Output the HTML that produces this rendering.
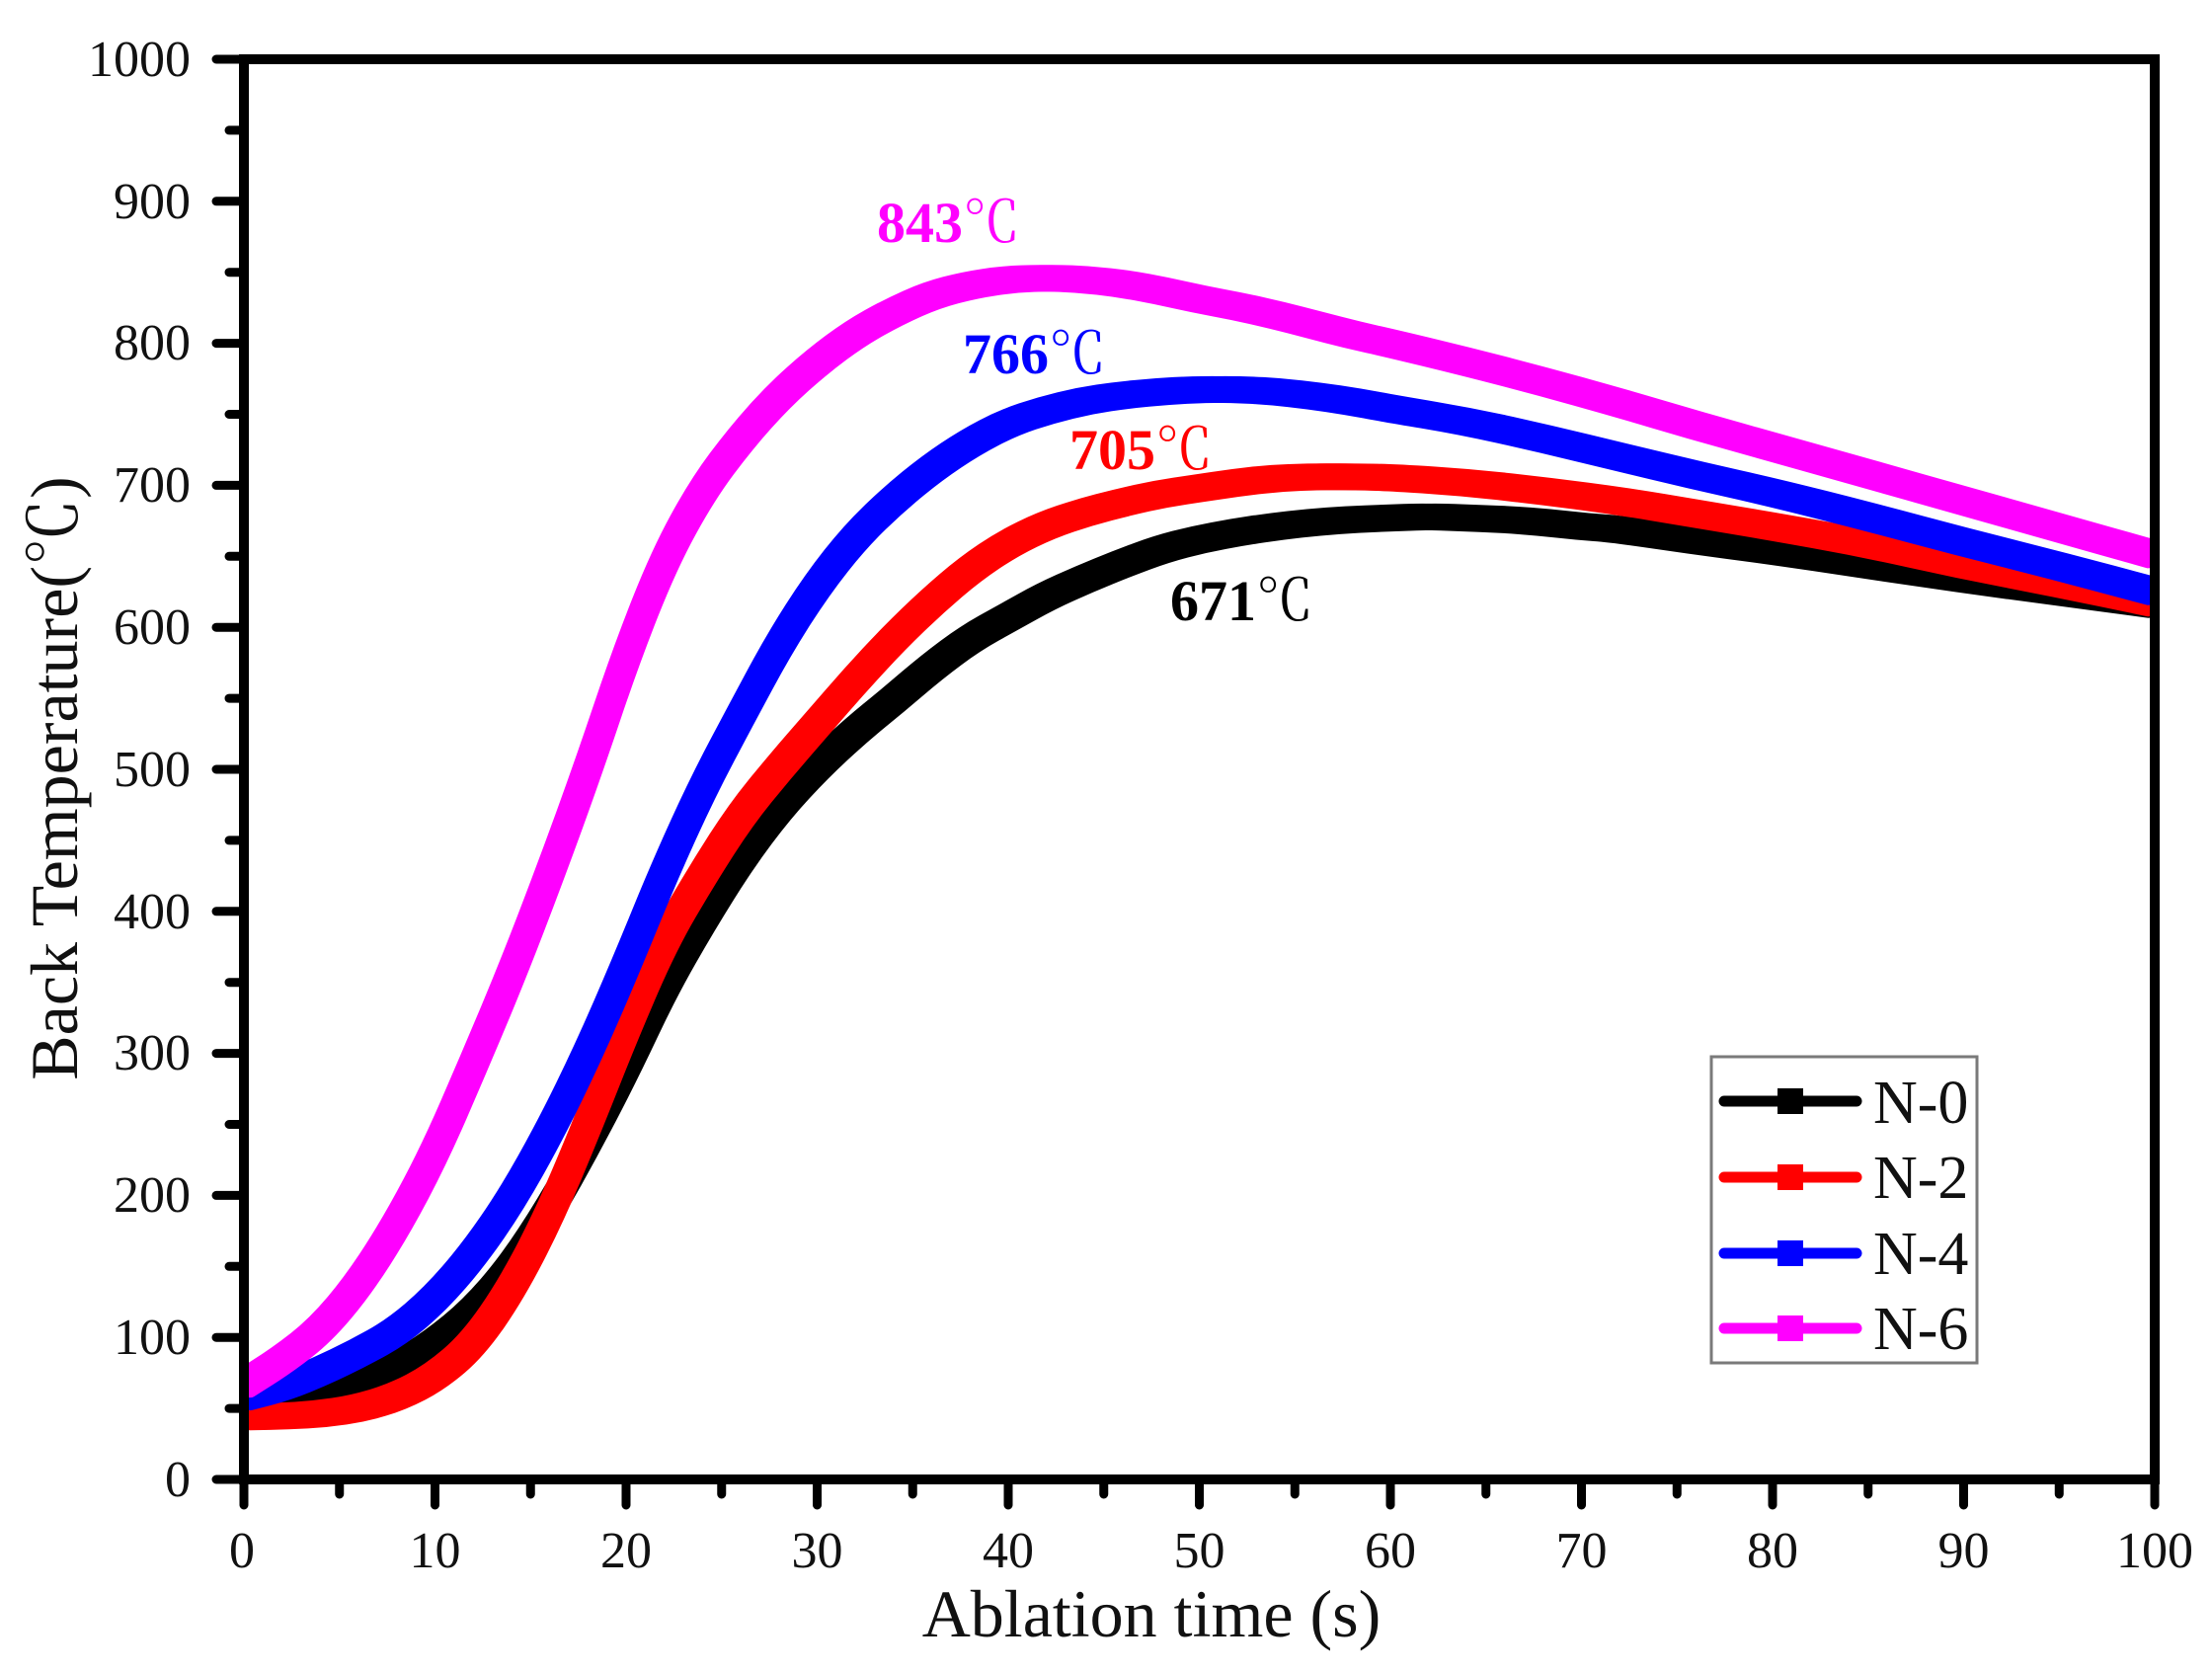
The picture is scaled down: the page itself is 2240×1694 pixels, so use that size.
<!DOCTYPE html>
<html>
<head>
<meta charset="utf-8">
<style>
html,body{margin:0;padding:0;background:#fff;}
svg{display:block;}
text{font-family:"Liberation Serif","Noto Serif CJK SC",serif;}
</style>
</head>
<body>
<svg width="2240" height="1694" viewBox="0 0 2240 1694" xmlns="http://www.w3.org/2000/svg">
<rect x="0" y="0" width="2240" height="1694" fill="#ffffff"/>
<defs>
<clipPath id="clip"><rect x="247" y="60" width="1935" height="1438"/></clipPath>
</defs>

<g clip-path="url(#clip)" fill="none" stroke-width="14" stroke-linejoin="round" stroke-linecap="round">
<!-- N-0 black -->
<g stroke="#000000">
<path vector-effect="non-scaling-stroke" transform="translate(240.5,1491.5) scale(19.35,-1.438)" d="M0,53 L1,54 Q2,55 3,57 Q4,59 5,63 Q6,67 7,73 Q8,79 9,87.5 Q10,96 11,107 Q12,118 13,133.5 Q14,149 15,169.5 Q16,190 17,214 Q18,238 19,264 Q20,290 21,318.5 Q22,347 23,370.5 Q24,394 25,415.5 Q26,437 27,455 Q28,473 29,487.5 Q30,502 31,514.5 Q32,527 33,538 Q34,549 35,560.5 Q36,572 37,582 Q38,592 39,599.5 Q40,607 41,614.5 Q42,622 43,628 Q44,634 45,639.5 Q46,645 47,650 Q48,655 49,658.5 Q50,662 51,664.5 Q52,667 53,669 Q54,671 55,672.5 Q56,674 57,675 Q58,676 59,676.5 Q60,677 61,677.5 Q62,678 63,677.5 Q64,677 65,676.5 Q66,676 67,675 Q68,674 69,672.5 Q70,671 71,670 Q72,669 74,665 Q76,661 78,657.5 Q80,654 82.5,649 Q85,644 87.5,639 Q90,634 92.5,629.5 Q95,625 97.5,620.5 L100,616"/>
<path vector-effect="non-scaling-stroke" transform="translate(253.5,1491.5) scale(19.35,-1.438)" d="M0,53 L1,54 Q2,55 3,57 Q4,59 5,63 Q6,67 7,73 Q8,79 9,87.5 Q10,96 11,107 Q12,118 13,133.5 Q14,149 15,169.5 Q16,190 17,214 Q18,238 19,264 Q20,290 21,318.5 Q22,347 23,370.5 Q24,394 25,415.5 Q26,437 27,455 Q28,473 29,487.5 Q30,502 31,514.5 Q32,527 33,538 Q34,549 35,560.5 Q36,572 37,582 Q38,592 39,599.5 Q40,607 41,614.5 Q42,622 43,628 Q44,634 45,639.5 Q46,645 47,650 Q48,655 49,658.5 Q50,662 51,664.5 Q52,667 53,669 Q54,671 55,672.5 Q56,674 57,675 Q58,676 59,676.5 Q60,677 61,677.5 Q62,678 63,677.5 Q64,677 65,676.5 Q66,676 67,675 Q68,674 69,672.5 Q70,671 71,670 Q72,669 74,665 Q76,661 78,657.5 Q80,654 82.5,649 Q85,644 87.5,639 Q90,634 92.5,629.5 Q95,625 97.5,620.5 L100,616"/>
<path vector-effect="non-scaling-stroke" transform="translate(240.5,1504.5) scale(19.35,-1.438)" d="M0,53 L1,54 Q2,55 3,57 Q4,59 5,63 Q6,67 7,73 Q8,79 9,87.5 Q10,96 11,107 Q12,118 13,133.5 Q14,149 15,169.5 Q16,190 17,214 Q18,238 19,264 Q20,290 21,318.5 Q22,347 23,370.5 Q24,394 25,415.5 Q26,437 27,455 Q28,473 29,487.5 Q30,502 31,514.5 Q32,527 33,538 Q34,549 35,560.5 Q36,572 37,582 Q38,592 39,599.5 Q40,607 41,614.5 Q42,622 43,628 Q44,634 45,639.5 Q46,645 47,650 Q48,655 49,658.5 Q50,662 51,664.5 Q52,667 53,669 Q54,671 55,672.5 Q56,674 57,675 Q58,676 59,676.5 Q60,677 61,677.5 Q62,678 63,677.5 Q64,677 65,676.5 Q66,676 67,675 Q68,674 69,672.5 Q70,671 71,670 Q72,669 74,665 Q76,661 78,657.5 Q80,654 82.5,649 Q85,644 87.5,639 Q90,634 92.5,629.5 Q95,625 97.5,620.5 L100,616"/>
<path vector-effect="non-scaling-stroke" transform="translate(253.5,1504.5) scale(19.35,-1.438)" d="M0,53 L1,54 Q2,55 3,57 Q4,59 5,63 Q6,67 7,73 Q8,79 9,87.5 Q10,96 11,107 Q12,118 13,133.5 Q14,149 15,169.5 Q16,190 17,214 Q18,238 19,264 Q20,290 21,318.5 Q22,347 23,370.5 Q24,394 25,415.5 Q26,437 27,455 Q28,473 29,487.5 Q30,502 31,514.5 Q32,527 33,538 Q34,549 35,560.5 Q36,572 37,582 Q38,592 39,599.5 Q40,607 41,614.5 Q42,622 43,628 Q44,634 45,639.5 Q46,645 47,650 Q48,655 49,658.5 Q50,662 51,664.5 Q52,667 53,669 Q54,671 55,672.5 Q56,674 57,675 Q58,676 59,676.5 Q60,677 61,677.5 Q62,678 63,677.5 Q64,677 65,676.5 Q66,676 67,675 Q68,674 69,672.5 Q70,671 71,670 Q72,669 74,665 Q76,661 78,657.5 Q80,654 82.5,649 Q85,644 87.5,639 Q90,634 92.5,629.5 Q95,625 97.5,620.5 L100,616"/>
</g>
<!-- N-2 red -->
<g stroke="#ff0000">
<path vector-effect="non-scaling-stroke" transform="translate(240.5,1491.5) scale(19.35,-1.438)" d="M0,44 L1,44.25 Q2,44.5 3,45.25 Q4,46 5,48 Q6,50 7,54 Q8,58 9,65 Q10,72 11,83.5 Q12,95 13,114.5 Q14,134 15,160 Q16,186 17,218 Q18,250 19,284 Q20,318 21,349 Q22,380 23,403 Q24,426 25,447 Q26,468 27,484.5 Q28,501 29,516.5 Q30,532 31,547.5 Q32,563 33,577.5 Q34,592 35,605 Q36,618 37,629.5 Q38,641 39,650 Q40,659 41,665.5 Q42,672 43,676.5 Q44,681 45,684.5 Q46,688 47,691 Q48,694 49,696 Q50,698 51,700 Q52,702 53,703.5 Q54,705 55,705.5 Q56,706 57,706 Q58,706 59,705.75 Q60,705.5 62,703.75 Q64,702 66,699 Q68,696 70,692.5 Q72,689 74,684.5 Q76,680 78,675.5 Q80,671 82.5,665 Q85,659 87.5,651.5 Q90,644 92.5,637.5 Q95,631 97.5,624 L100,617"/>
<path vector-effect="non-scaling-stroke" transform="translate(253.5,1491.5) scale(19.35,-1.438)" d="M0,44 L1,44.25 Q2,44.5 3,45.25 Q4,46 5,48 Q6,50 7,54 Q8,58 9,65 Q10,72 11,83.5 Q12,95 13,114.5 Q14,134 15,160 Q16,186 17,218 Q18,250 19,284 Q20,318 21,349 Q22,380 23,403 Q24,426 25,447 Q26,468 27,484.5 Q28,501 29,516.5 Q30,532 31,547.5 Q32,563 33,577.5 Q34,592 35,605 Q36,618 37,629.5 Q38,641 39,650 Q40,659 41,665.5 Q42,672 43,676.5 Q44,681 45,684.5 Q46,688 47,691 Q48,694 49,696 Q50,698 51,700 Q52,702 53,703.5 Q54,705 55,705.5 Q56,706 57,706 Q58,706 59,705.75 Q60,705.5 62,703.75 Q64,702 66,699 Q68,696 70,692.5 Q72,689 74,684.5 Q76,680 78,675.5 Q80,671 82.5,665 Q85,659 87.5,651.5 Q90,644 92.5,637.5 Q95,631 97.5,624 L100,617"/>
<path vector-effect="non-scaling-stroke" transform="translate(240.5,1504.5) scale(19.35,-1.438)" d="M0,44 L1,44.25 Q2,44.5 3,45.25 Q4,46 5,48 Q6,50 7,54 Q8,58 9,65 Q10,72 11,83.5 Q12,95 13,114.5 Q14,134 15,160 Q16,186 17,218 Q18,250 19,284 Q20,318 21,349 Q22,380 23,403 Q24,426 25,447 Q26,468 27,484.5 Q28,501 29,516.5 Q30,532 31,547.5 Q32,563 33,577.5 Q34,592 35,605 Q36,618 37,629.5 Q38,641 39,650 Q40,659 41,665.5 Q42,672 43,676.5 Q44,681 45,684.5 Q46,688 47,691 Q48,694 49,696 Q50,698 51,700 Q52,702 53,703.5 Q54,705 55,705.5 Q56,706 57,706 Q58,706 59,705.75 Q60,705.5 62,703.75 Q64,702 66,699 Q68,696 70,692.5 Q72,689 74,684.5 Q76,680 78,675.5 Q80,671 82.5,665 Q85,659 87.5,651.5 Q90,644 92.5,637.5 Q95,631 97.5,624 L100,617"/>
<path vector-effect="non-scaling-stroke" transform="translate(253.5,1504.5) scale(19.35,-1.438)" d="M0,44 L1,44.25 Q2,44.5 3,45.25 Q4,46 5,48 Q6,50 7,54 Q8,58 9,65 Q10,72 11,83.5 Q12,95 13,114.5 Q14,134 15,160 Q16,186 17,218 Q18,250 19,284 Q20,318 21,349 Q22,380 23,403 Q24,426 25,447 Q26,468 27,484.5 Q28,501 29,516.5 Q30,532 31,547.5 Q32,563 33,577.5 Q34,592 35,605 Q36,618 37,629.5 Q38,641 39,650 Q40,659 41,665.5 Q42,672 43,676.5 Q44,681 45,684.5 Q46,688 47,691 Q48,694 49,696 Q50,698 51,700 Q52,702 53,703.5 Q54,705 55,705.5 Q56,706 57,706 Q58,706 59,705.75 Q60,705.5 62,703.75 Q64,702 66,699 Q68,696 70,692.5 Q72,689 74,684.5 Q76,680 78,675.5 Q80,671 82.5,665 Q85,659 87.5,651.5 Q90,644 92.5,637.5 Q95,631 97.5,624 L100,617"/>
</g>
<!-- N-4 blue -->
<g stroke="#0000ff">
<path vector-effect="non-scaling-stroke" transform="translate(240.5,1491.5) scale(19.35,-1.438)" d="M0,58 L1,61.5 Q2,65 3,70.5 Q4,76 5,82.5 Q6,89 7,96.5 Q8,104 9,115.5 Q10,127 11,142.5 Q12,158 13,177.5 Q14,197 15,221 Q16,245 17,272.5 Q18,300 19,331 Q20,362 21,395 Q22,428 23,457.5 Q24,487 25,512.5 Q26,538 27,563 Q28,588 29,609 Q30,630 31,647 Q32,664 33,677 Q34,690 35,701 Q36,712 37,721 Q38,730 39,737 Q40,744 41,748.5 Q42,753 43,756.25 Q44,759.5 45,761.5 Q46,763.5 47,764.75 Q48,766 49,766.75 Q50,767.5 51,767.5 Q52,767.5 53,766.75 Q54,766 55,764.5 Q56,763 57,761 Q58,759 59,756.5 Q60,754 62,749.5 Q64,745 66,739 Q68,733 70,726.5 Q72,720 74,713.5 Q76,707 78,701 Q80,695 82.5,686.5 Q85,678 87.5,669 Q90,660 92.5,651.5 Q95,643 97.5,634 L100,625"/>
<path vector-effect="non-scaling-stroke" transform="translate(253.5,1491.5) scale(19.35,-1.438)" d="M0,58 L1,61.5 Q2,65 3,70.5 Q4,76 5,82.5 Q6,89 7,96.5 Q8,104 9,115.5 Q10,127 11,142.5 Q12,158 13,177.5 Q14,197 15,221 Q16,245 17,272.5 Q18,300 19,331 Q20,362 21,395 Q22,428 23,457.5 Q24,487 25,512.5 Q26,538 27,563 Q28,588 29,609 Q30,630 31,647 Q32,664 33,677 Q34,690 35,701 Q36,712 37,721 Q38,730 39,737 Q40,744 41,748.5 Q42,753 43,756.25 Q44,759.5 45,761.5 Q46,763.5 47,764.75 Q48,766 49,766.75 Q50,767.5 51,767.5 Q52,767.5 53,766.75 Q54,766 55,764.5 Q56,763 57,761 Q58,759 59,756.5 Q60,754 62,749.5 Q64,745 66,739 Q68,733 70,726.5 Q72,720 74,713.5 Q76,707 78,701 Q80,695 82.5,686.5 Q85,678 87.5,669 Q90,660 92.5,651.5 Q95,643 97.5,634 L100,625"/>
<path vector-effect="non-scaling-stroke" transform="translate(240.5,1504.5) scale(19.35,-1.438)" d="M0,58 L1,61.5 Q2,65 3,70.5 Q4,76 5,82.5 Q6,89 7,96.5 Q8,104 9,115.5 Q10,127 11,142.5 Q12,158 13,177.5 Q14,197 15,221 Q16,245 17,272.5 Q18,300 19,331 Q20,362 21,395 Q22,428 23,457.5 Q24,487 25,512.5 Q26,538 27,563 Q28,588 29,609 Q30,630 31,647 Q32,664 33,677 Q34,690 35,701 Q36,712 37,721 Q38,730 39,737 Q40,744 41,748.5 Q42,753 43,756.25 Q44,759.5 45,761.5 Q46,763.5 47,764.75 Q48,766 49,766.75 Q50,767.5 51,767.5 Q52,767.5 53,766.75 Q54,766 55,764.5 Q56,763 57,761 Q58,759 59,756.5 Q60,754 62,749.5 Q64,745 66,739 Q68,733 70,726.5 Q72,720 74,713.5 Q76,707 78,701 Q80,695 82.5,686.5 Q85,678 87.5,669 Q90,660 92.5,651.5 Q95,643 97.5,634 L100,625"/>
<path vector-effect="non-scaling-stroke" transform="translate(253.5,1504.5) scale(19.35,-1.438)" d="M0,58 L1,61.5 Q2,65 3,70.5 Q4,76 5,82.5 Q6,89 7,96.5 Q8,104 9,115.5 Q10,127 11,142.5 Q12,158 13,177.5 Q14,197 15,221 Q16,245 17,272.5 Q18,300 19,331 Q20,362 21,395 Q22,428 23,457.5 Q24,487 25,512.5 Q26,538 27,563 Q28,588 29,609 Q30,630 31,647 Q32,664 33,677 Q34,690 35,701 Q36,712 37,721 Q38,730 39,737 Q40,744 41,748.5 Q42,753 43,756.25 Q44,759.5 45,761.5 Q46,763.5 47,764.75 Q48,766 49,766.75 Q50,767.5 51,767.5 Q52,767.5 53,766.75 Q54,766 55,764.5 Q56,763 57,761 Q58,759 59,756.5 Q60,754 62,749.5 Q64,745 66,739 Q68,733 70,726.5 Q72,720 74,713.5 Q76,707 78,701 Q80,695 82.5,686.5 Q85,678 87.5,669 Q90,660 92.5,651.5 Q95,643 97.5,634 L100,625"/>
</g>
<!-- N-6 magenta -->
<g stroke="#ff00ff">
<path vector-effect="non-scaling-stroke" transform="translate(240.5,1491.5) scale(19.35,-1.438)" d="M0,67 L1,75.5 Q2,84 3,94.5 Q4,105 5,121 Q6,137 7,158 Q8,179 9,204.5 Q10,230 11,261 Q12,292 13,324 Q14,356 15,391 Q16,426 17,463 Q18,500 19,540 Q20,580 21,614 Q22,648 23,672.5 Q24,697 25,715 Q26,733 27,748 Q28,763 29,775 Q30,787 31,797 Q32,807 33,814.5 Q34,822 35,828 Q36,834 37,837.5 Q38,841 39,843 Q40,845 41,845.5 Q42,846 43,845.5 Q44,845 45,843.5 Q46,842 47,839.5 Q48,837 49,834 Q50,831 51,828.5 Q52,826 53,823 Q54,820 55,816.5 Q56,813 57,809.5 Q58,806 59,803 Q60,800 62,793.5 Q64,787 66,780 Q68,773 70,765.5 Q72,758 74,750 Q76,742 78,734.5 Q80,727 82.5,717.5 Q85,708 87.5,698.5 Q90,689 92.5,679.5 Q95,670 97.5,660.5 L100,651"/>
<path vector-effect="non-scaling-stroke" transform="translate(253.5,1491.5) scale(19.35,-1.438)" d="M0,67 L1,75.5 Q2,84 3,94.5 Q4,105 5,121 Q6,137 7,158 Q8,179 9,204.5 Q10,230 11,261 Q12,292 13,324 Q14,356 15,391 Q16,426 17,463 Q18,500 19,540 Q20,580 21,614 Q22,648 23,672.5 Q24,697 25,715 Q26,733 27,748 Q28,763 29,775 Q30,787 31,797 Q32,807 33,814.5 Q34,822 35,828 Q36,834 37,837.5 Q38,841 39,843 Q40,845 41,845.5 Q42,846 43,845.5 Q44,845 45,843.5 Q46,842 47,839.5 Q48,837 49,834 Q50,831 51,828.5 Q52,826 53,823 Q54,820 55,816.5 Q56,813 57,809.5 Q58,806 59,803 Q60,800 62,793.5 Q64,787 66,780 Q68,773 70,765.5 Q72,758 74,750 Q76,742 78,734.5 Q80,727 82.5,717.5 Q85,708 87.5,698.5 Q90,689 92.5,679.5 Q95,670 97.5,660.5 L100,651"/>
<path vector-effect="non-scaling-stroke" transform="translate(240.5,1504.5) scale(19.35,-1.438)" d="M0,67 L1,75.5 Q2,84 3,94.5 Q4,105 5,121 Q6,137 7,158 Q8,179 9,204.5 Q10,230 11,261 Q12,292 13,324 Q14,356 15,391 Q16,426 17,463 Q18,500 19,540 Q20,580 21,614 Q22,648 23,672.5 Q24,697 25,715 Q26,733 27,748 Q28,763 29,775 Q30,787 31,797 Q32,807 33,814.5 Q34,822 35,828 Q36,834 37,837.5 Q38,841 39,843 Q40,845 41,845.5 Q42,846 43,845.5 Q44,845 45,843.5 Q46,842 47,839.5 Q48,837 49,834 Q50,831 51,828.5 Q52,826 53,823 Q54,820 55,816.5 Q56,813 57,809.5 Q58,806 59,803 Q60,800 62,793.5 Q64,787 66,780 Q68,773 70,765.5 Q72,758 74,750 Q76,742 78,734.5 Q80,727 82.5,717.5 Q85,708 87.5,698.5 Q90,689 92.5,679.5 Q95,670 97.5,660.5 L100,651"/>
<path vector-effect="non-scaling-stroke" transform="translate(253.5,1504.5) scale(19.35,-1.438)" d="M0,67 L1,75.5 Q2,84 3,94.5 Q4,105 5,121 Q6,137 7,158 Q8,179 9,204.5 Q10,230 11,261 Q12,292 13,324 Q14,356 15,391 Q16,426 17,463 Q18,500 19,540 Q20,580 21,614 Q22,648 23,672.5 Q24,697 25,715 Q26,733 27,748 Q28,763 29,775 Q30,787 31,797 Q32,807 33,814.5 Q34,822 35,828 Q36,834 37,837.5 Q38,841 39,843 Q40,845 41,845.5 Q42,846 43,845.5 Q44,845 45,843.5 Q46,842 47,839.5 Q48,837 49,834 Q50,831 51,828.5 Q52,826 53,823 Q54,820 55,816.5 Q56,813 57,809.5 Q58,806 59,803 Q60,800 62,793.5 Q64,787 66,780 Q68,773 70,765.5 Q72,758 74,750 Q76,742 78,734.5 Q80,727 82.5,717.5 Q85,708 87.5,698.5 Q90,689 92.5,679.5 Q95,670 97.5,660.5 L100,651"/>
</g>
</g>

<!-- Axes frame -->
<rect x="247" y="60" width="1935" height="1438" fill="none" stroke="#000" stroke-width="10"/>
<!-- Ticks -->
<path stroke="#000" stroke-width="9" stroke-linecap="round" fill="none" d="
M247 1498H219 M247 1354.2H219 M247 1210.4H219 M247 1066.6H219 M247 922.8H219 M247 779H219 M247 635.2H219 M247 491.4H219 M247 347.6H219 M247 203.8H219 M247 60H219
M247 1426.1H232 M247 1282.3H232 M247 1138.5H232 M247 994.7H232 M247 850.9H232 M247 707.1H232 M247 563.3H232 M247 419.5H232 M247 275.7H232 M247 131.9H232
M247 1498V1524 M440.5 1498V1524 M634 1498V1524 M827.5 1498V1524 M1021 1498V1524 M1214.5 1498V1524 M1408 1498V1524 M1601.5 1498V1524 M1795 1498V1524 M1988.5 1498V1524 M2182 1498V1524
M343.75 1498V1513 M537.25 1498V1513 M730.75 1498V1513 M924.25 1498V1513 M1117.75 1498V1513 M1311.25 1498V1513 M1504.75 1498V1513 M1698.25 1498V1513 M1891.75 1498V1513 M2085.25 1498V1513"/>

<!-- Y tick labels -->
<g font-size="52" fill="#111" text-anchor="end">
<text x="193" y="1515">0</text>
<text x="193" y="1371">100</text>
<text x="193" y="1227">200</text>
<text x="193" y="1083">300</text>
<text x="193" y="940">400</text>
<text x="193" y="796">500</text>
<text x="193" y="652">600</text>
<text x="193" y="508">700</text>
<text x="193" y="364">800</text>
<text x="193" y="221">900</text>
<text x="193" y="77">1000</text>
</g>
<!-- X tick labels -->
<g font-size="52" fill="#111" text-anchor="middle">
<text x="245" y="1587">0</text>
<text x="440.5" y="1587">10</text>
<text x="634" y="1587">20</text>
<text x="827.5" y="1587">30</text>
<text x="1021" y="1587">40</text>
<text x="1214.5" y="1587">50</text>
<text x="1408" y="1587">60</text>
<text x="1601.5" y="1587">70</text>
<text x="1795" y="1587">80</text>
<text x="1988.5" y="1587">90</text>
<text x="2182" y="1587">100</text>
</g>

<!-- Axis titles -->
<text x="1166" y="1657" font-size="68" fill="#111" text-anchor="middle">Ablation time (s)</text>
<text transform="translate(78,788) rotate(-90)" x="0" y="0" font-size="68" fill="#111" text-anchor="middle">Back Temperature(<tspan font-family="Noto Serif CJK SC, serif">℃</tspan>)</text>

<!-- Peak annotations -->
<text x="888" y="245" font-size="58" font-weight="bold" fill="#ff00ff">843<tspan font-weight="normal" font-family="Noto Serif CJK SC, serif">℃</tspan></text>
<text x="975" y="378" font-size="58" font-weight="bold" fill="#0000ff">766<tspan font-weight="normal" font-family="Noto Serif CJK SC, serif">℃</tspan></text>
<text x="1083" y="475" font-size="58" font-weight="bold" fill="#ff0000">705<tspan font-weight="normal" font-family="Noto Serif CJK SC, serif">℃</tspan></text>
<text x="1185" y="628" font-size="58" font-weight="bold" fill="#000000">671<tspan font-weight="normal" font-family="Noto Serif CJK SC, serif">℃</tspan></text>

<!-- Legend -->
<rect x="1733" y="1070" width="269" height="310" fill="#ffffff" stroke="#7a7a7a" stroke-width="3"/>
<g stroke-width="11" stroke-linecap="round">
<line x1="1746" y1="1115" x2="1880" y2="1115" stroke="#000000"/>
<line x1="1746" y1="1192" x2="1880" y2="1192" stroke="#ff0000"/>
<line x1="1746" y1="1269" x2="1880" y2="1269" stroke="#0000ff"/>
<line x1="1746" y1="1345" x2="1880" y2="1345" stroke="#ff00ff"/>
</g>
<rect x="1800" y="1102" width="26" height="26" fill="#000000"/>
<rect x="1800" y="1179" width="26" height="26" fill="#ff0000"/>
<rect x="1800" y="1256" width="26" height="26" fill="#0000ff"/>
<rect x="1800" y="1332" width="26" height="26" fill="#ff00ff"/>
<g font-size="62" fill="#111">
<text x="1897" y="1137">N-0</text>
<text x="1897" y="1213">N-2</text>
<text x="1897" y="1290">N-4</text>
<text x="1897" y="1366">N-6</text>
</g>
</svg>
</body>
</html>
